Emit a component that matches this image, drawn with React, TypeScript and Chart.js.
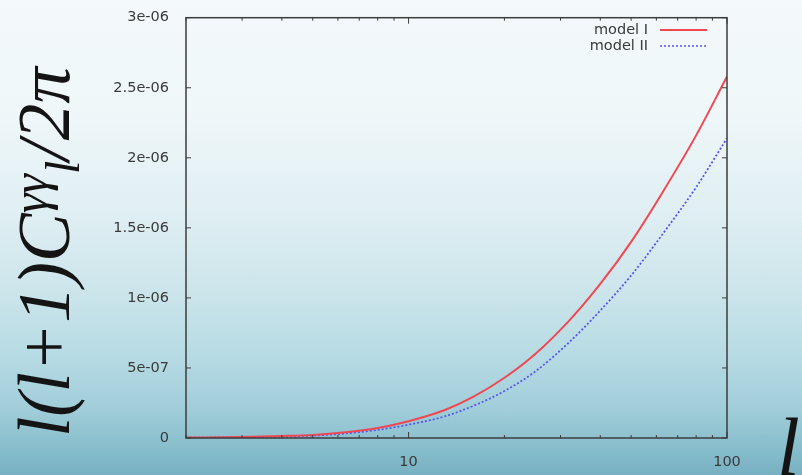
import React, { useEffect, useRef } from "react";
import { Chart, registerables } from "chart.js";

Chart.register(...registerables);

const ells = [2, 3, 4, 5, 6, 8, 10, 13, 16, 20, 25, 32, 40, 50, 63, 80, 100];
const modelI = [3e-9, 7e-9, 1.4e-8, 2.2e-8, 3.6e-8, 7.2e-8, 1.2e-7, 2.0e-7, 2.95e-7, 4.3e-7, 6.0e-7, 8.4e-7, 1.1e-6, 1.4e-6, 1.76e-6, 2.16e-6, 2.58e-6];
const modelII = [2e-9, 5e-9, 1.0e-8, 1.7e-8, 2.8e-8, 5.8e-8, 9.5e-8, 1.55e-7, 2.3e-7, 3.35e-7, 4.75e-7, 6.85e-7, 9.1e-7, 1.16e-6, 1.46e-6, 1.79e-6, 2.14e-6];
const seriesNames = ["model I", "model II"];
const xTickValues = [10, 100];
const xMinorTicks = [2, 3, 4, 5, 6, 7, 8, 9, 20, 30, 40, 50, 60, 70, 80, 90];
const yTickValues = [0, 5e-7, 1e-6, 1.5e-6, 2e-6, 2.5e-6, 3e-6];
const yTickLabels = ["0", "5e-07", "1e-06", "1.5e-06", "2e-06", "2.5e-06", "3e-06"];

const RED = "rgb(240,72,82)";
const BLUE = "rgb(86,86,238)";
const TICK_FONT = "'DejaVu Sans', Arial, sans-serif";

const framePlugin = {
  id: "gnuplotFrame",
  afterDraw(chart: any) {
    const { ctx, chartArea } = chart;
    const { left, right, top, bottom } = chartArea;
    const xs = chart.scales.x;
    const ys = chart.scales.y;
    ctx.save();
    ctx.strokeStyle = "#3c3c3c";
    ctx.lineWidth = 1.5;
    ctx.strokeRect(left, top, right - left, bottom - top);
    ctx.lineWidth = 1;
    ctx.beginPath();
    for (const v of yTickValues) {
      const y = ys.getPixelForValue(v);
      ctx.moveTo(left, y); ctx.lineTo(left + 5, y);
      ctx.moveTo(right, y); ctx.lineTo(right - 5, y);
    }
    for (const v of xTickValues) {
      const x = xs.getPixelForValue(v);
      ctx.moveTo(x, bottom); ctx.lineTo(x, bottom - 6);
      ctx.moveTo(x, top); ctx.lineTo(x, top + 6);
    }
    for (const v of xMinorTicks) {
      const x = xs.getPixelForValue(v);
      ctx.moveTo(x, bottom); ctx.lineTo(x, bottom - 3);
      ctx.moveTo(x, top); ctx.lineTo(x, top + 3);
    }
    ctx.stroke();

    // legend
    ctx.font = "14.5px " + TICK_FONT;
    ctx.fillStyle = "#3a3a3a";
    ctx.textAlign = "right";
    ctx.textBaseline = "middle";
    const lx = 648;
    const ly = [30, 46];
    ctx.fillText(seriesNames[0], lx, ly[0]);
    ctx.fillText(seriesNames[1], lx, ly[1]);
    ctx.lineWidth = 2;
    ctx.strokeStyle = RED;
    ctx.beginPath(); ctx.moveTo(660, ly[0]); ctx.lineTo(707, ly[0]); ctx.stroke();
    ctx.lineWidth = 1.5;
    ctx.strokeStyle = BLUE;
    ctx.setLineDash([2, 2]);
    ctx.beginPath(); ctx.moveTo(660, ly[1]); ctx.lineTo(707, ly[1]); ctx.stroke();
    ctx.setLineDash([]);

    // axis titles
    ctx.fillStyle = "#141414";
    ctx.textAlign = "left";
    ctx.textBaseline = "alphabetic";
    ctx.save();
    ctx.translate(69, 437);
    ctx.rotate(-Math.PI / 2);
    const parts = [
      { t: "l(l+1)C", f: "italic 73px 'Liberation Serif', serif", dy: 0 },
      { t: "γγ", f: "italic 50px 'Liberation Serif', serif", dy: -22 },
      { t: "l", f: "italic 48px 'Liberation Serif', serif", dy: 10 },
      { t: "/2π", f: "italic 73px 'Liberation Serif', serif", dy: 0 },
    ];
    let px = 0;
    for (const p of parts) {
      ctx.font = p.f;
      ctx.fillText(p.t, px, p.dy);
      px += ctx.measureText(p.t).width;
    }
    ctx.restore();
    ctx.font = "italic 82px 'Liberation Serif', serif";
    ctx.fillText("l", 777, 475);
    ctx.restore();
  },
};

export default function App() {
  const ref = useRef<HTMLCanvasElement>(null);
  useEffect(() => {
    document.body.style.margin = "0";
    const chart = new Chart(ref.current as HTMLCanvasElement, {
      type: "line",
      data: {
        datasets: [
          {
            label: seriesNames[0],
            data: ells.map((l, i) => ({ x: l, y: modelI[i] })),
            borderColor: RED,
            borderWidth: 2,
            pointRadius: 0,
            cubicInterpolationMode: "monotone",
          },
          {
            label: seriesNames[1],
            data: ells.map((l, i) => ({ x: l, y: modelII[i] })),
            borderColor: BLUE,
            borderWidth: 1.8,
            borderDash: [2, 2],
            pointRadius: 0,
            cubicInterpolationMode: "monotone",
          },
        ],
      },
      options: {
        animation: false,
        responsive: false,
        maintainAspectRatio: false,
        layout: { padding: { left: 96, right: 75, top: 15, bottom: 7 } },
        plugins: { legend: { display: false }, tooltip: { enabled: false } },
        scales: {
          x: {
            type: "logarithmic",
            min: 2,
            max: 100,
            grid: { display: false },
            border: { display: false },
            afterBuildTicks: (s: any) => {
              s.ticks = xTickValues.map((v) => ({ value: v }));
            },
            afterFit: (s: any) => {
              s.height = 30;
            },
            ticks: {
              padding: 8,
              color: "#3a3a3a",
              font: { family: TICK_FONT, size: 14.5 },
              autoSkip: false,
              maxRotation: 0,
              callback: (v: any) => String(v),
            },
          },
          y: {
            type: "linear",
            min: 0,
            max: 3e-6,
            grid: { display: false },
            border: { display: false },
            afterBuildTicks: (s: any) => {
              s.ticks = yTickValues.map((v) => ({ value: v }));
            },
            afterFit: (s: any) => {
              s.width = 90;
            },
            ticks: {
              padding: 9,
              color: "#3a3a3a",
              font: { family: TICK_FONT, size: 14.5 },
              callback: (v: any) => {
                const i = yTickValues.findIndex((t) => Math.abs(t - v) < 1e-12);
                return i >= 0 ? yTickLabels[i] : "";
              },
            },
          },
        },
      },
      plugins: [framePlugin],
    } as any);
    return () => chart.destroy();
  }, []);
  return (
    <div
      style={{
        width: 802,
        height: 475,
        position: "relative",
        overflow: "hidden",
        background:
          "linear-gradient(180deg, #f4f9fb 0px, #eff7f9 110px, #e0eff3 210px, #cce5eb 290px, #b5dae3 360px, #a0cdd9 410px, #86bccb 450px, #78b1c3 475px)",
      }}
    >
      <canvas ref={ref} width={802} height={475} style={{ display: "block" }} />
    </div>
  );
}
